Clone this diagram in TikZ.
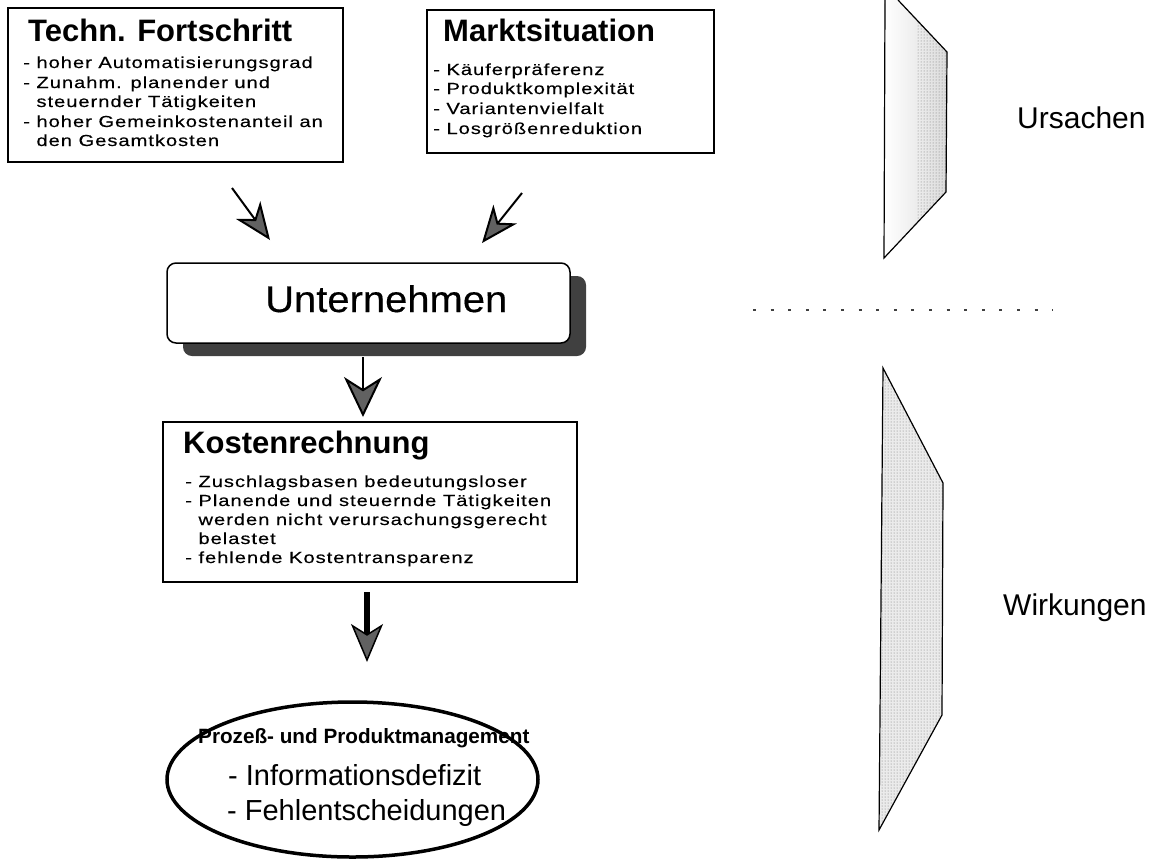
\documentclass[tikz,border=0pt]{standalone}
\usepackage{fontspec}
\setmainfont{Liberation Sans}
\newfontfamily\bulfont[FakeStretch=1.26,LetterSpace=6,FakeBold=0.3]{Liberation Sans}
\newfontfamily\unfont[FakeStretch=1.08,FakeBold=0.4]{Liberation Sans}
\usetikzlibrary{arrows.meta,shapes.geometric,shadows,patterns}
\begin{document}
\begin{tikzpicture}[x=1pt,y=-1pt,
  box/.style={draw, line width=1.4pt, inner sep=0pt, outer sep=0pt, anchor=north west},
  ttl/.style={anchor=base west, inner sep=0pt, font=\fontsize{31}{36}\selectfont\bfseries},
  bul/.style={anchor=base west, inner sep=0pt, font=\bulfont\fontsize{16}{19}\selectfont},
  big/.style={anchor=base west, inner sep=0pt, font=\fontsize{29}{34}\selectfont},
  arr/.style={line width=2pt, -{Stealth[length=37pt,width=30pt,inset=11pt,fill=black!62]}},
  trap/.style={draw, line width=1.2pt}
]
\useasboundingbox (0,0) rectangle (1166,863);

% Techn. Fortschritt
\node[box, minimum width=335pt, minimum height=154pt] (tf) at (8,8) {};
\node[ttl] (tft) at (28,41) {Techn. Fortschritt};
\node[bul] (tf1) at (23,68) {- hoher Automatisierungsgrad};
\node[bul] (tf2) at (23,88) {- Zunahm. planender und};
\node[bul] (tf3) at (23,107) {\phantom{- }steuernder Tätigkeiten};
\node[bul] (tf4) at (23,127) {- hoher Gemeinkostenanteil an};
\node[bul] (tf5) at (23,146) {\phantom{- }den Gesamtkosten};

% Marktsituation
\node[box, minimum width=287pt, minimum height=143pt] (ms) at (427,10) {};
\node[ttl] (mst) at (443,41) {Marktsituation};
\node[bul] (ms1) at (433,75) {- Käuferpräferenz};
\node[bul] (ms2) at (433,94) {- Produktkomplexität};
\node[bul] (ms3) at (433,114) {- Variantenvielfalt};
\node[bul] (ms4) at (433,134) {- Losgrößenreduktion};

% Unternehmen
\node[draw, line width=1.5pt, fill=white, rounded corners=9pt, anchor=north west,
      minimum width=403pt, minimum height=80pt, inner sep=0pt, outer sep=0pt,
      drop shadow={shadow xshift=16pt, shadow yshift=-13pt, fill=black!75, opacity=1}] (un) at (167,263) {};
\node[anchor=base west, inner sep=0pt, font=\unfont\fontsize{37}{42}\selectfont] (unt) at (265,312) {Unternehmen};

% Kostenrechnung
\node[box, minimum width=414pt, minimum height=160pt] (kr) at (163,422) {};
\node[ttl] (krt) at (183,453) {Kostenrechnung};
\node[bul] (kr1) at (185,487) {- Zuschlagsbasen bedeutungsloser};
\node[bul] (kr2) at (185,506) {- Planende und steuernde Tätigkeiten};
\node[bul] (kr3) at (185,525) {\phantom{- }werden nicht verursachungsgerecht};
\node[bul] (kr4) at (185,544) {\phantom{- }belastet};
\node[bul] (kr5) at (185,563) {- fehlende Kostentransparenz};

% Ellipse
\node[ellipse, draw, line width=3.5pt, minimum width=371pt, minimum height=155pt, inner sep=0pt] (pm) at (352.5,779.5) {};
\node[anchor=base west, inner sep=0pt, font=\fontsize{20.7}{24}\selectfont\bfseries] (pmt) at (198,743) {Prozeß- und Produktmanagement};
\node[big] (pm1) at (228,785) {- Informationsdefizit};
\node[big] (pm2) at (227,820) {- Fehlentscheidungen};

% arrows
\coordinate (a1s) at (232,188);
\coordinate (a1e) at (270,240);
\coordinate (a2s) at (522,193);
\coordinate (a2e) at (482,243);
\coordinate (a3s) at (363,357);
\coordinate (a3e) at (363,417);
\coordinate (a4s) at (367,592);
\coordinate (a4e) at (367,662);
\draw[arr] (a1s) -- (a1e);
\draw[arr] (a2s) -- (a2e);
\draw[line width=2pt, -{Stealth[length=40pt,width=38pt,inset=12pt,fill=black!62]}] (a3s) -- (a3e);
\draw[line width=6pt, -{Stealth[length=38pt,width=32pt,inset=10pt,fill=black!62,line width=1.5pt]}] (a4s) -- (a4e);

% right side: Ursachen
\coordinate (u1) at (885,0);
\coordinate (u2) at (898,0);
\coordinate (u3) at (947,52);
\coordinate (u4) at (946,192);
\coordinate (u5) at (884,258);
\fill[left color=white, right color=black!14] (u1) -- (u2) -- (u3) -- (u4) -- (u5) -- cycle;
\begin{scope}
  \clip (u1) -- (u2) -- (u3) -- (u4) -- (u5) -- cycle;
  \fill[pattern=dots, pattern color=black!55] (917,0) rectangle (950,260);
\end{scope}
\draw[trap] (u2) -- (u3) -- (u4) -- (u5) -- (u1);
\node[anchor=base west, inner sep=0pt, font=\fontsize{30}{34}\selectfont] (urs) at (1017,128) {Ursachen};

% right side: Wirkungen
\coordinate (w1) at (883,368);
\coordinate (w2) at (943,483);
\coordinate (w3) at (942,715);
\coordinate (w4) at (879,830);
\fill[black!8] (w1) -- (w2) -- (w3) -- (w4) -- cycle;
\fill[pattern=dots, pattern color=black!55] (w1) -- (w2) -- (w3) -- (w4) -- cycle;
\draw[trap] (w1) -- (w2) -- (w3) -- (w4) -- cycle;
\node[anchor=base west, inner sep=0pt, font=\fontsize{30}{34}\selectfont] (wrk) at (1003,615) {Wirkungen};

% dotted divider
\coordinate (d1) at (753,310);
\coordinate (d2) at (1053,310);
\draw[black!75, line width=1.3pt, dash pattern=on 3pt off 14.6pt] (d1) -- (d2);
\end{tikzpicture}
\end{document}
